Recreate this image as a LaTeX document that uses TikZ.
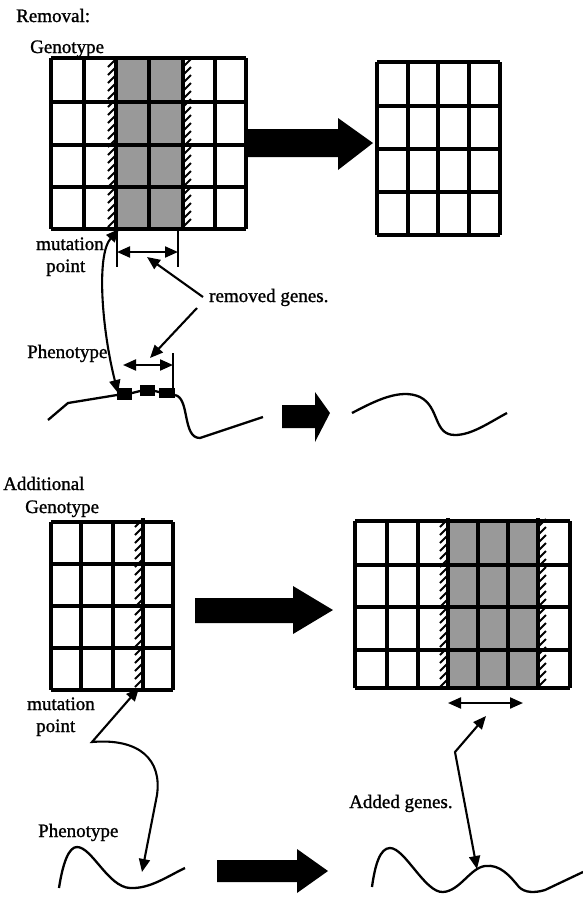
\documentclass[tikz,border=0pt]{standalone}
\usepackage{fontspec}
\setmainfont{Liberation Serif}
\newfontfamily\lblfont{Liberation Serif}[FakeBold=1.2]
\usetikzlibrary{arrows.meta}
\newcommand\myhatchl[3]{%
  \draw[gline] (#1,#2)--(#1,#3);
  \pgfmathtruncatemacro\mya{#2+5}\pgfmathtruncatemacro\myb{#2+13}\pgfmathtruncatemacro\myc{#3-3}%
  \foreach \t in {\mya,\myb,...,\myc}{\draw[hatchtick] (#1-8,\t+4) -- (#1,\t-4);}}
\newcommand\myhatchr[3]{%
  \draw[gline] (#1,#2)--(#1,#3);
  \pgfmathtruncatemacro\mya{#2+5}\pgfmathtruncatemacro\myb{#2+13}\pgfmathtruncatemacro\myc{#3-3}%
  \foreach \t in {\mya,\myb,...,\myc}{\draw[hatchtick] (#1,\t+4) -- (#1+8,\t-4);}}
\begin{document}
\begin{tikzpicture}[x=1pt,y=-1pt,
  lbl/.style={inner sep=0pt,anchor=base west,font=\lblfont\fontsize{19}{22}\selectfont},
  gline/.style={line width=3.2pt},
  hatchtick/.style={line width=2pt},
  conn/.style={line width=2.1pt},
  curve/.style={line width=2.3pt},
  tipe/.style={-{Triangle[length=13pt,width=11pt]}},
  tipb/.style={{Triangle[length=13pt,width=11pt]}-{Triangle[length=13pt,width=11pt]}},
  genefill/.style={fill=black!40},
  fatarrow/.style={fill=black}]
\useasboundingbox (0,0) rectangle (583,898);

% ---------------- texts ----------------
\node[lbl] (removal) at (16,22) {Removal:};
\node[lbl] (geno1) at (30,53) {Genotype};
\node[lbl] (mut1) at (36,250) {mutation};
\node[lbl] (pt1) at (46,272) {point};
\node[lbl] (remg) at (209,302) {removed genes.};
\node[lbl] (pheno1) at (27,358) {Phenotype};
\node[lbl] (addl) at (3,490) {Additional};
\node[lbl] (geno2) at (25,513) {Genotype};
\node[lbl] (mut2) at (27,710) {mutation};
\node[lbl] (pt2) at (36,732) {point};
\node[lbl] (pheno2) at (38,837) {Phenotype};
\node[lbl] (addg) at (349,808) {Added genes.};

% ---------------- grid 1 (removal, before) ----------------
\fill[genefill] (116,58) rectangle (183,229);
\foreach \c in {51,84,149,215,246} \draw[gline] (\c,58) -- (\c,229);
\foreach \r in {58,102,145,187,229} \draw[gline] (51,\r) -- (246,\r);
\myhatchl{116}{58}{229}
\myhatchr{183}{58}{229}

% ---------------- grid 2 (removal, after) ----------------
\foreach \c in {377,408,438,469,500} \draw[gline] (\c,62) -- (\c,235);
\foreach \r in {62,106,149,192,235} \draw[gline] (377,\r) -- (500,\r);

% big arrow 1
\fill[fatarrow] (247,129) -- (338,129) -- (338,118) -- (373,143) -- (338,170) -- (338,157) -- (247,157) -- cycle;

% removed genes span markers (genotype)
\coordinate (g1a) at (117,252);
\coordinate (g1b) at (178,252);
\draw[conn] (117,230) -- (117,267);
\draw[conn] (178,228) -- (178,267);
\draw[conn,tipb] (g1a) -- (g1b);

% removed genes span markers (phenotype)
\coordinate (p1a) at (123,365);
\coordinate (p1b) at (173,365);
\draw[conn] (173,353) -- (173,393);
\draw[conn,tipb] (p1a) -- (p1b);

% label arrows
\coordinate (rg1) at (203,297);
\coordinate (rg1t) at (147,257);
\coordinate (rg2) at (197,308);
\coordinate (rg2t) at (150,358);
\draw[conn,tipe] (rg1) -- (rg1t);
\draw[conn,tipe] (rg2) -- (rg2t);

% mutation point link (removal)
\coordinate (mp1top) at (119,229);
\coordinate (mp1bot) at (118,393);
\draw[conn,tipb] (mp1top) .. controls (96,255) and (102,330) .. (mp1bot);

% phenotype 1 curve
\draw[curve] (48,420) -- (68,403) -- (117,395);
\draw[curve] (132,393) -- (140,391);
\draw[curve] (155,391) -- (159,392);
\fill (117,388) rectangle (132,400);
\fill (140,385) rectangle (155,396);
\fill (159,388) rectangle (175,398);
\draw[curve] (175,395) .. controls (190,398) and (182,438) .. (200,438) -- (263,417);

% small arrow
\fill[fatarrow] (282,405) -- (315,405) -- (315,392) -- (330,413) -- (315,442) -- (315,428) -- (282,428) -- cycle;

% phenotype 1 after
\draw[curve] (352,413) .. controls (375,401) and (400,388) .. (420,397)
  .. controls (440,407) and (433,435) .. (455,435)
  .. controls (472,435) and (490,422) .. (507,413);

% ---------------- grid 3 (additional, before) ----------------
\foreach \c in {51,81,113,173} \draw[gline] (\c,522) -- (\c,690);
\foreach \r in {522,564,606,648,690} \draw[gline] (51,\r) -- (173,\r);
\myhatchl{143}{518}{690}

% big arrow 2
\fill[fatarrow] (195,598) -- (293,598) -- (293,586) -- (333,610) -- (293,634) -- (293,623) -- (195,623) -- cycle;

% ---------------- grid 4 (additional, after) ----------------
\fill[genefill] (448,521) rectangle (538,688);
\foreach \c in {355,387,418,478,508,570} \draw[gline] (\c,521) -- (\c,688);
\foreach \r in {521,565,607,650,688} \draw[gline] (355,\r) -- (570,\r);
\myhatchl{448}{518}{688}
\myhatchr{538}{518}{688}

% added genes span
\coordinate (g4a) at (448,703);
\coordinate (g4b) at (523,703);
\draw[conn,tipb] (g4a) -- (g4b);

% mutation point link (additional)
\coordinate (mp2top) at (139,688);
\coordinate (mp2mid) at (92,742);
\coordinate (mp2bot) at (142,872);
\draw[conn,tipb] (mp2top) -- (mp2mid) .. controls (140,738) and (162,760) .. (157,795) -- (mp2bot);

% added genes link
\coordinate (ag) at (455,752);
\coordinate (agtop) at (486,716);
\coordinate (agbot) at (477,869);
\draw[conn,tipb] (agtop) -- (ag) -- (agbot);

% phenotype 2 before
\draw[curve] (59,888) .. controls (63,862) and (69,847) .. (77,847)
  .. controls (92,847) and (108,887) .. (130,888)
  .. controls (150,889) and (168,876) .. (185,868);

% big arrow 3
\fill[fatarrow] (217,860) -- (297,860) -- (297,849) -- (328,871) -- (297,893) -- (297,882) -- (217,882) -- cycle;

% phenotype 2 after
\draw[curve] (372,887) .. controls (375,865) and (380,848) .. (390,848)
  .. controls (405,848) and (425,893) .. (443,892)
  .. controls (460,891) and (470,868) .. (485,866)
  .. controls (500,864) and (510,876) .. (519,887)
  .. controls (525,893) and (535,893) .. (545,890) -- (583,872);
\end{tikzpicture}
\end{document}
